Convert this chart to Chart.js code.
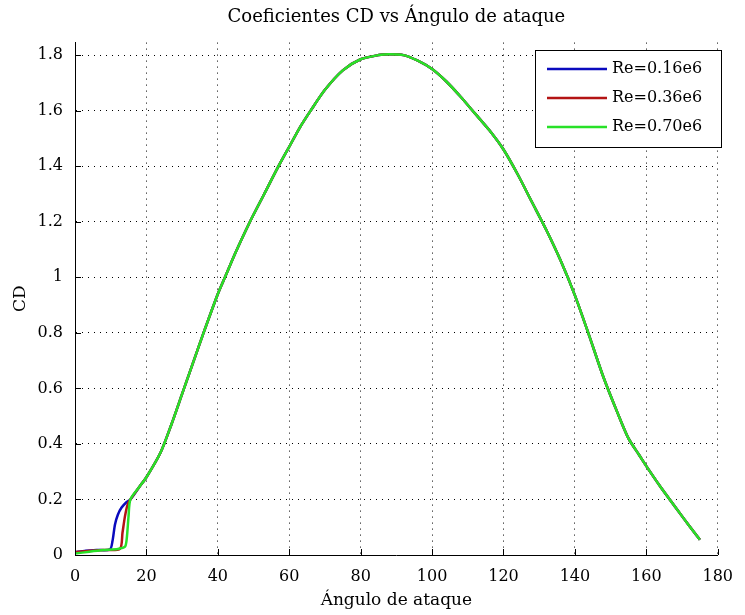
<!DOCTYPE html>
<html>
<head>
<meta charset="utf-8">
<script src="https://cdn.jsdelivr.net/npm/chart.js@4/dist/chart.umd.min.js"></script>
<style>
  html, body { margin: 0; padding: 0; background: #fff; }
  #wrap { width: 745px; height: 615px; }
</style>
</head>
<body>
<div id="wrap"><canvas id="cdChart" width="745" height="615"></canvas></div>
<script>
// curve shared by all three Reynolds numbers after stall
var angCommon = [15.5, 18, 20, 24, 27, 30, 33, 36, 40, 42, 45, 49, 53, 57, 60, 63, 66, 70, 75, 80,
                 85, 88, 92, 96, 100, 104, 108, 112, 116, 120, 124, 128, 132, 136, 140, 144, 148, 152, 155, 158,
                 160, 164, 168, 172, 175];
var cdCommon = [0.20, 0.245, 0.28, 0.37, 0.47, 0.58, 0.69, 0.80, 0.94, 1.00, 1.09, 1.20, 1.30, 1.40, 1.47, 1.54, 1.60, 1.675, 1.745, 1.785,
                1.80, 1.803, 1.80, 1.78, 1.75, 1.705, 1.65, 1.59, 1.53, 1.46, 1.37, 1.27, 1.17, 1.06, 0.935, 0.79, 0.64, 0.51, 0.42, 0.36,
                0.32, 0.245, 0.175, 0.105, 0.055];

// low angle part, different per Re
var ang016 = [0, 3, 6, 9.8, 10.5, 11.2, 12, 13, 14.4, 15.5];
var cd016 = [0.01, 0.015, 0.018, 0.02, 0.05, 0.11, 0.145, 0.17, 0.19, 0.20];
var ang036 = [0, 4, 8, 12.6, 13.3, 14, 14.7, 15.5];
var cd036 = [0.01, 0.015, 0.018, 0.022, 0.08, 0.14, 0.18, 0.20];
var ang070 = [0, 4, 8, 12, 14, 14.5, 15, 15.5];
var cd070 = [0.005, 0.012, 0.018, 0.022, 0.03, 0.06, 0.14, 0.20];

var labels = ["Re=0.16e6", "Re=0.36e6", "Re=0.70e6"];
var colors = ['rgb(10, 10, 190)', 'rgb(180, 20, 20)', 'rgb(40, 225, 40)'];

var xTicks = [0, 20, 40, 60, 80, 100, 120, 140, 160, 180];
var yTicks = [0, 0.2, 0.4, 0.6, 0.8, 1, 1.2, 1.4, 1.6, 1.8];

function buildPoints(ang, cd) {
    var pts = [];
    for (var i = 0; i < ang.length; i++) pts.push({x: ang[i], y: cd[i]});
    for (var j = 1; j < angCommon.length; j++) pts.push({x: angCommon[j], y: cdCommon[j]});
    return pts;
}

var serif = "'DejaVu Serif', 'Liberation Serif', serif";

// inward tick marks like matlab
var innerTicks = {
    id: 'innerTicks',
    afterDatasetsDraw: function(chart) {
        var c = chart.ctx, a = chart.chartArea;
        var xs = chart.scales.x, ys = chart.scales.y;
        c.save();
        c.strokeStyle = '#000';
        c.lineWidth = 1;
        c.beginPath();
        xTicks.forEach(function(v) {
            var px = Math.round(xs.getPixelForValue(v)) + 0.5;
            c.moveTo(px, a.bottom);
            c.lineTo(px, a.bottom - 6);
        });
        yTicks.forEach(function(v) {
            var py = Math.round(ys.getPixelForValue(v)) + 0.5;
            c.moveTo(a.left, py);
            c.lineTo(a.left + 6, py);
        });
        c.stroke();
        c.restore();
    }
};

// legend box inside the axes, top right
var boxLegend = {
    id: 'boxLegend',
    afterDraw: function(chart) {
        var c = chart.ctx;
        var x0 = 535, y0 = 50, w = 186, h = 97;
        c.save();
        c.fillStyle = '#fff';
        c.fillRect(x0, y0, w, h);
        c.strokeStyle = '#000';
        c.lineWidth = 1;
        c.strokeRect(x0 + 0.5, y0 + 0.5, w, h);
        chart.data.datasets.forEach(function(ds, i) {
            var yy = y0 + 19 + i * 29;
            c.strokeStyle = ds.borderColor;
            c.lineWidth = 2.5;
            c.beginPath();
            c.moveTo(x0 + 12, yy);
            c.lineTo(x0 + 72, yy);
            c.stroke();
            c.fillStyle = '#000';
            c.font = "16px " + serif;
            c.textAlign = 'left';
            c.textBaseline = 'middle';
            c.fillText(ds.label, x0 + 77, yy);
        });
        c.restore();
    }
};

var ctx = document.getElementById('cdChart').getContext('2d');

var chart = new Chart(ctx, {
    type: 'scatter',
    data: {
        datasets: [
            {label: labels[0], data: buildPoints(ang016, cd016), borderColor: colors[0], order: 2},
            {label: labels[1], data: buildPoints(ang036, cd036), borderColor: colors[1], order: 1},
            {label: labels[2], data: buildPoints(ang070, cd070), borderColor: colors[2], order: 0}
        ]
    },
    options: {
        responsive: false,
        animation: false,
        devicePixelRatio: 1,
        layout: {padding: {left: 0, right: 17, top: 0, bottom: 0}},
        datasets: {
            scatter: {
                showLine: true,
                pointRadius: 0,
                borderWidth: 2.5,
                tension: 0.25
            }
        },
        plugins: {
            legend: {display: false},
            tooltip: {enabled: false},
            title: {
                display: true,
                fullSize: false,
                text: 'Coeficientes CD vs Ángulo de ataque',
                color: '#000',
                font: {family: serif, size: 18, weight: 'normal'},
                padding: {top: 7, bottom: 14}
            }
        },
        scales: {
            x: {
                type: 'linear',
                min: 0,
                max: 180,
                afterFit: function(s) { s.height = 60; },
                afterBuildTicks: function(s) { s.ticks = xTicks.map(function(v) { return {value: v}; }); },
                ticks: {color: '#000', font: {family: serif, size: 16}, padding: 12, maxRotation: 0},
                grid: {color: '#000', lineWidth: 1, drawTicks: false},
                border: {display: true, color: '#000', width: 1, dash: [1, 5]},
                title: {display: true, text: 'Ángulo de ataque', color: '#000',
                        font: {family: serif, size: 17}, padding: {top: 0, bottom: 4}}
            },
            y: {
                type: 'linear',
                min: 0,
                max: 1.845,
                afterFit: function(s) { s.width = 75; },
                afterBuildTicks: function(s) { s.ticks = yTicks.map(function(v) { return {value: v}; }); },
                ticks: {
                    color: '#000', font: {family: serif, size: 16}, padding: 12,
                    callback: function(v) { return String(Math.round(v * 10) / 10); }
                },
                grid: {color: '#000', lineWidth: 1, drawTicks: false},
                border: {display: true, color: '#000', width: 1, dash: [1, 5]},
                title: {display: true, text: 'CD', color: '#000',
                        font: {family: serif, size: 17}, padding: {top: 10, bottom: 0}}
            }
        }
    },
    plugins: [innerTicks, boxLegend]
});
</script>
</body>
</html>
